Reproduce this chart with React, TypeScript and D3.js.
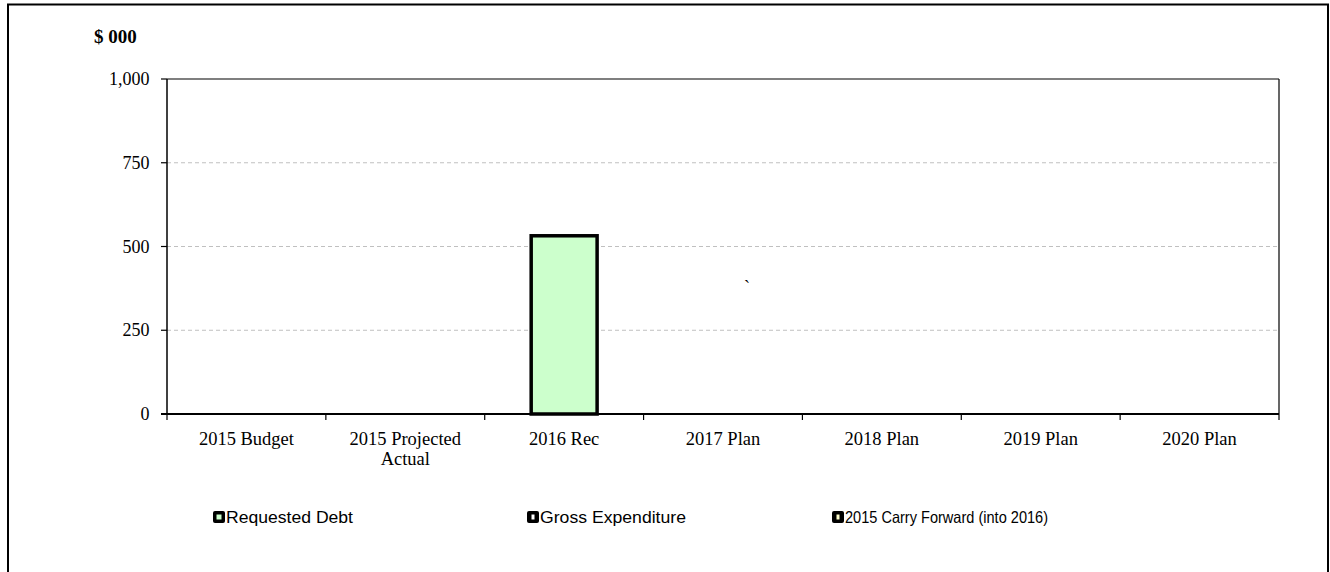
import React from "react";
import * as d3 from "d3";

const categories: string[][] = [
  ["2015 Budget"],
  ["2015 Projected", "Actual"],
  ["2016 Rec"],
  ["2017 Plan"],
  ["2018 Plan"],
  ["2019 Plan"],
  ["2020 Plan"],
];
const requestedDebt = [0, 0, 532, 0, 0, 0, 0];
const grossExpenditure = [0, 0, 0, 0, 0, 0, 0];
const carryForward = [0, 0, 0, 0, 0, 0, 0];
const yTicks = [0, 250, 500, 750, 1000];
const legendItems = [
  { label: "Requested Debt", fill: "#ccffcc", iw: 5 },
  { label: "Gross Expenditure", fill: "#ffffff", iw: 3 },
  { label: "2015 Carry Forward (into 2016)", fill: "#ffffcc", iw: 3 },
];
const legendX = [213, 527, 832];
const legendTextLen = [127, 146, 203];

const W = 1330;
const H = 572;
const left = 167;
const right = 1279;
const top = 79;
const bottom = 414;

export default function App() {
  const keys = categories.map((c) => c.join(" "));
  const x = d3.scaleBand<string>().domain(keys).range([left, right]).padding(0);
  const y = d3.scaleLinear().domain([0, 1000]).range([bottom, top]);
  const barW = x.bandwidth() * 0.415;
  const fmt = d3.format(",");
  const serif = "'Liberation Serif', 'Times New Roman', serif";
  const sans = "'Liberation Sans', Arial, sans-serif";

  return (
    <svg
      width={W}
      height={H}
      style={{ position: "absolute", left: 0, top: 0, background: "#fff" }}
    >
      <rect x={0} y={0} width={W} height={H} fill="#fff" />
      {/* outer frame */}
      <rect x={8} y={4.5} width={1320} height={620} fill="none" stroke="#000" strokeWidth={2} />

      {/* gridlines */}
      {yTicks
        .filter((t) => t > 0 && t < 1000)
        .map((t) => (
          <line
            key={"g" + t}
            x1={left}
            x2={right}
            y1={y(t)}
            y2={y(t)}
            stroke="#c0c0c0"
            strokeWidth={1}
            strokeDasharray="4,3"
          />
        ))}

      {/* plot border top/right */}
      <line x1={left} x2={right} y1={top} y2={top} stroke="#000" strokeWidth={1.2} />
      <line x1={right} x2={right} y1={top} y2={bottom + 6} stroke="#000" strokeWidth={1.2} />

      {/* bars */}
      {requestedDebt.map((v, i) =>
        v > 0 ? (
          <rect
            key={"b" + i}
            x={(x(keys[i]) as number) + x.bandwidth() / 2 - barW / 2}
            y={y(v)}
            width={barW}
            height={y(0) - y(v)}
            fill="#ccffcc"
            stroke="#000"
            strokeWidth={3.5}
          />
        ) : null
      )}
      {grossExpenditure.map((v, i) =>
        v > 0 ? (
          <rect key={"ge" + i} x={(x(keys[i]) as number)} y={y(v)} width={barW} height={y(0) - y(v)} fill="#fff" stroke="#000" />
        ) : null
      )}
      {carryForward.map((v, i) =>
        v > 0 ? (
          <rect key={"cf" + i} x={(x(keys[i]) as number)} y={y(v)} width={barW} height={y(0) - y(v)} fill="#ffffcc" stroke="#000" />
        ) : null
      )}

      {/* axes */}
      <line x1={left} x2={left} y1={top} y2={bottom} stroke="#000" strokeWidth={1.5} />
      <line x1={left - 6} x2={right} y1={bottom} y2={bottom} stroke="#000" strokeWidth={2} />
      {yTicks.map((t) => (
        <g key={"t" + t}>
          <line x1={left - 6} x2={left} y1={y(t)} y2={y(t)} stroke="#000" strokeWidth={1.2} />
          <text
            x={149.5}
            y={y(t)}
            dy="0.34em"
            textAnchor="end"
            fontFamily={serif}
            fontSize={18}
            fill="#000"
          >
            {fmt(t)}
          </text>
        </g>
      ))}
      {keys.map((k, i) => (
        <line
          key={"xt" + i}
          x1={x(k) as number}
          x2={x(k) as number}
          y1={bottom}
          y2={bottom + 6}
          stroke="#000"
          strokeWidth={1.2}
        />
      ))}
      {categories.map((lines, i) => (
        <text
          key={"xl" + i}
          x={(x(keys[i]) as number) + x.bandwidth() / 2}
          y={445}
          textAnchor="middle"
          fontFamily={serif}
          fontSize={18.5}
          fill="#000"
        >
          {lines.map((l, j) => (
            <tspan key={j} x={(x(keys[i]) as number) + x.bandwidth() / 2} dy={j === 0 ? 0 : 20}>
              {l}
            </tspan>
          ))}
        </text>
      ))}

      {/* unit label */}
      <text x={94} y={43} fontFamily={serif} fontSize={19} fontWeight="bold" fill="#000">
        $ 000
      </text>

      {/* stray mark */}
      <text x={744} y={293} fontFamily={serif} fontSize={18} fill="#000">
        `
      </text>

      {/* legend */}
      {legendItems.map((it, i) => (
        <g key={"lg" + i}>
          <rect x={legendX[i]} y={511} width={12} height={12} rx={2} fill="#000" />
          <rect
            x={legendX[i] + 6 - it.iw / 2}
            y={514.5}
            width={it.iw}
            height={5}
            fill={it.fill}
          />
          <text
            x={legendX[i] + 13}
            y={523}
            fontFamily={sans}
            fontSize={16.5}
            fill="#000"
            textLength={legendTextLen[i]}
            lengthAdjust="spacingAndGlyphs"
          >
            {it.label}
          </text>
        </g>
      ))}
    </svg>
  );
}
